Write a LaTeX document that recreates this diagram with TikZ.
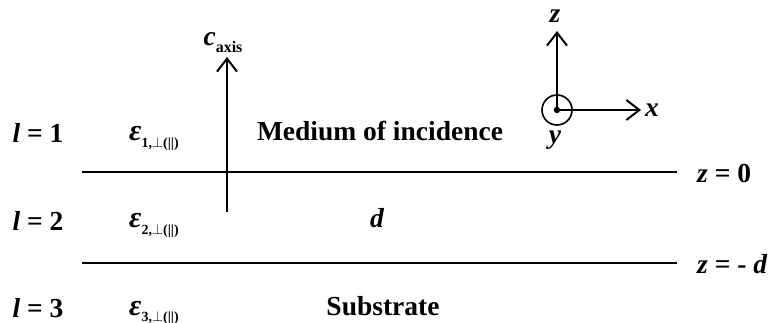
\documentclass[tikz,border=0pt]{standalone}
\usepackage{fontspec}
\setmainfont{Liberation Serif}
\usetikzlibrary{arrows.meta,positioning}

\newcommand{\epsl}[1]{{\fontsize{30}{32}\selectfont\itshape ε}\raisebox{-0.5ex}{\fontsize{14}{15}\selectfont #1,$\perp$(||)}}

\begin{document}
\begin{tikzpicture}[x=1pt,y=-1pt,
    txt/.style={font=\fontsize{27.5}{31}\selectfont\bfseries, inner sep=0pt, anchor=base},
    axis/.style={line width=2pt, -{Straight Barb[length=13pt,width=20pt,line width=2pt]}},
    iface/.style={line width=1.8pt}]
    \useasboundingbox (0,0) rectangle (771,323);

    % Interfaces z = 0 and z = -d
    \coordinate (top w) at (82,172);
    \coordinate (top e) at (677,172);
    \coordinate (bot w) at (82,263);
    \coordinate (bot e) at (677,263);
    \draw[iface] (top w) -- (top e);
    \draw[iface] (bot w) -- (bot e);
    \node[txt, anchor=west] (z0) at (697,173) {{\itshape z} = 0};
    \node[txt, anchor=west] (zd) at (697,264) {{\itshape z} = - {\itshape d}};

    % Layer indices and permittivities
    \node[txt] (l1) at (38,143) {{\itshape l} = 1};
    \node[txt] (l2) at (38,230) {{\itshape l} = 2};
    \node[txt] (l3) at (38,317) {{\itshape l} = 3};
    \node[txt, anchor=base west] (e1) at (129,141) {\epsl{1}};
    \node[txt, anchor=base west] (e2) at (129,228) {\epsl{2}};
    \node[txt, anchor=base west] (e3) at (129,315) {\epsl{3}};

    \node[txt] (medium) at (380,141) {Medium of incidence};
    \node[txt] (thick) at (377,228) {\itshape d};
    \node[txt] (subs) at (383,315) {Substrate};

    % Optical axis
    \coordinate (c0) at (227,212);
    \coordinate (c1) at (227,57);
    \draw[axis] (c0) -- (c1);
    \node[txt, anchor=base] (caxis) at (223,46) {{\itshape c}\raisebox{-0.5ex}{\fontsize{16}{17}\selectfont axis}};

    % Lab frame
    \coordinate (O) at (557,110);
    \coordinate (zt) at (557,31);
    \coordinate (xt) at (641,110);
    \draw[line width=1.6pt] (O) circle (15);
    \fill (O) circle (3.2);
    \draw[axis] (O) -- (zt);
    \draw[axis] (O) -- (xt);
    \node[txt, anchor=base] (zlab) at (555,23) {\itshape z};
    \node[txt, anchor=base west] (xlab) at (645,117) {\itshape x};
    \node[txt, anchor=base] (ylab) at (555,144) {\itshape y};
\end{tikzpicture}
\end{document}
